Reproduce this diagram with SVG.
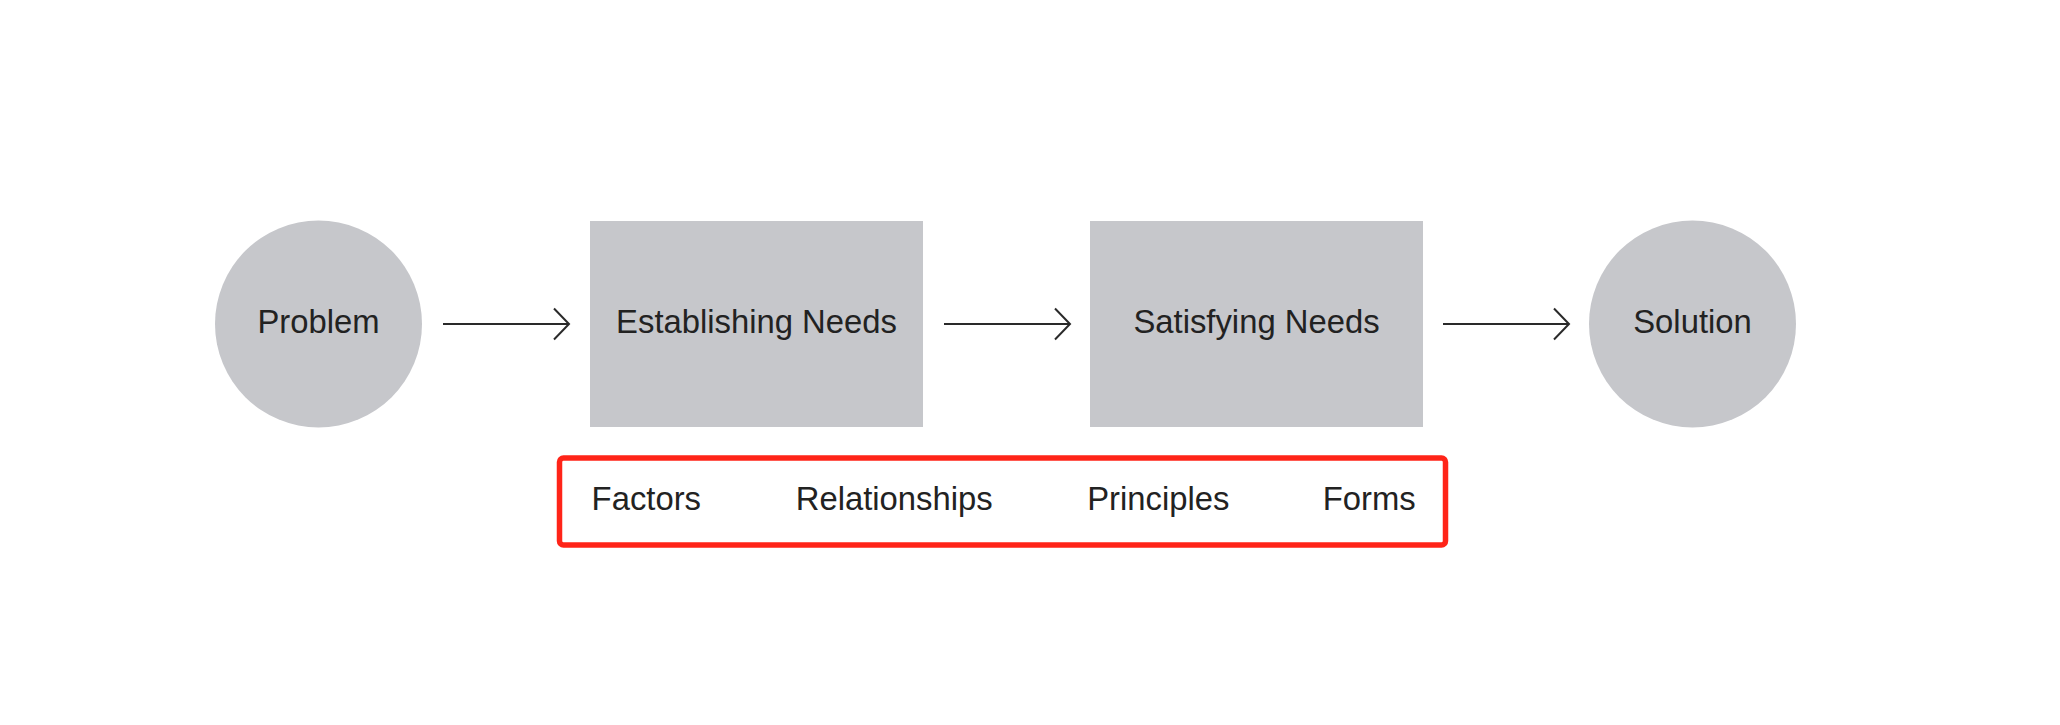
<svg xmlns="http://www.w3.org/2000/svg" width="2060" height="725" viewBox="0 0 2060 725">
<style>
.node{fill:#c6c7cb;}
.lbl{font-family:"Liberation Sans",Arial,Helvetica,sans-serif;font-size:32.8px;fill:#222222;text-anchor:middle;}
.conn{stroke:#2a2a2a;stroke-width:2;fill:none;}
.frame{fill:none;stroke:#ff2418;stroke-width:5.5;}
</style>
<defs>
<marker id="chev" markerUnits="userSpaceOnUse" markerWidth="20" markerHeight="36" viewBox="-18 -18 20 36" refX="0" refY="0" orient="auto">
<path d="M-15,-15.5 L0,0 L-15,15.5" fill="none" stroke="#2a2a2a" stroke-width="2"/>
</marker>
</defs>
<rect width="2060" height="725" fill="#ffffff"/>
<g id="connectors">
<line class="conn" x1="443" y1="324" x2="569" y2="324" marker-end="url(#chev)"/>
<line class="conn" x1="944" y1="324" x2="1070" y2="324" marker-end="url(#chev)"/>
<line class="conn" x1="1443" y1="324" x2="1569" y2="324" marker-end="url(#chev)"/>
</g>
<g id="problem">
<circle class="node" cx="318.5" cy="324" r="103.5"/>
<text class="lbl" x="318.5" y="332.5">Problem</text>
</g>
<g id="establishing-needs">
<rect class="node" x="590" y="221" width="333" height="206"/>
<text class="lbl" x="756.5" y="332.5">Establishing Needs</text>
</g>
<g id="satisfying-needs">
<rect class="node" x="1090" y="221" width="333" height="206"/>
<text class="lbl" x="1256.5" y="332.5">Satisfying Needs</text>
</g>
<g id="solution">
<circle class="node" cx="1692.5" cy="324" r="103.5"/>
<text class="lbl" x="1692.5" y="332.5">Solution</text>
</g>
<g id="aspects">
<rect class="frame" x="559.5" y="458" width="886" height="87" rx="4"/>
<text class="lbl" x="646.3" y="510">Factors</text>
<text class="lbl" x="894.2" y="510">Relationships</text>
<text class="lbl" x="1158.3" y="510">Principles</text>
<text class="lbl" x="1369.2" y="510">Forms</text>
</g>
</svg>
